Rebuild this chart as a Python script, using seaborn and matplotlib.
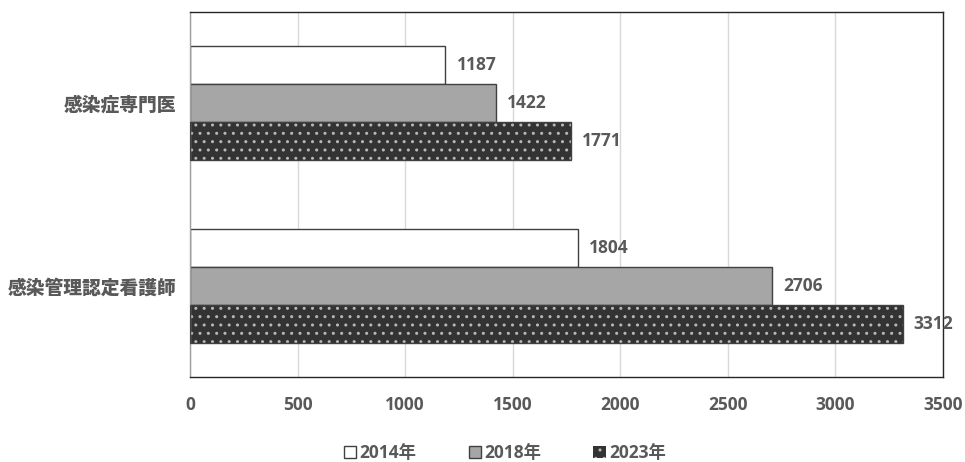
import matplotlib
matplotlib.use("Agg")
import matplotlib.pyplot as plt
import seaborn as sns
import pandas as pd
from matplotlib.patches import Patch

categories = ["感染症専門医", "感染管理認定看護師"]
years = ["2014年", "2018年", "2023年"]
values_2014 = [1187, 1804]
values_2018 = [1422, 2706]
values_2023 = [1771, 3312]
xticks = [0, 500, 1000, 1500, 2000, 2500, 3000, 3500]

sns.set_theme(style="white")
FAM = ['Open Sans', 'Noto Sans CJK JP', 'DejaVu Sans']
plt.rcParams['font.family'] = FAM
plt.rcParams['font.weight'] = 'bold'

rows = []
for yr, vals in zip(years, [values_2014, values_2018, values_2023]):
    for c, v in zip(categories, vals):
        rows.append({"cat": c, "year": yr, "value": v})
df = pd.DataFrame(rows)

fill = ["#ffffff", "#a6a6a6", "#333333"]
txt = "#595959"

fig = plt.figure(figsize=(9.65, 4.62), dpi=100)
ax = fig.add_axes([190/965, 1-377/462, (943-190)/965, (377-12)/462])

sns.barplot(data=df, y="cat", x="value", hue="year", orient="h",
            palette=fill, width=0.625, ax=ax, legend=False,
            edgecolor="#404040", linewidth=1.0, saturation=1, zorder=2)

conts = ax.containers
for bar in conts[2]:
    bar.set_hatch("..")
    bar.set_edgecolor("#b8b8b8")
    bar.set_linewidth(0)
for bar in conts[2]:
    ax.add_patch(plt.Rectangle(bar.get_xy(), bar.get_width(), bar.get_height(),
                               fill=False, edgecolor="#404040", lw=1.0, zorder=3))

for cont in conts:
    ax.bar_label(cont, fmt="%d", padding=8, fontsize=12.5, fontweight="bold",
                 color=txt, family=FAM)

ax.set_xlim(0, 3500)
ax.set_ylim(1.5, -0.5)
ax.set_xticks(xticks)
ax.set_xticklabels([str(t) for t in xticks])
ax.xaxis.grid(True, color="#d9d9d9", lw=1, zorder=0)
ax.set_axisbelow(True)
ax.set_xlabel("")
ax.set_ylabel("")
ax.tick_params(axis="x", length=0, pad=14, labelcolor=txt)
ax.tick_params(axis="y", length=0, pad=10, labelcolor=txt)
for lab in ax.get_xticklabels():
    lab.set_fontweight("bold")
    lab.set_fontsize(12.5)
    lab.set_family(FAM)
for lab in ax.get_yticklabels():
    lab.set_fontweight("heavy")
    lab.set_fontsize(13.5)
    lab.set_family(['Noto Sans CJK JP', 'DejaVu Sans'])
for s in ["top", "right", "bottom"]:
    ax.spines[s].set_visible(True)
    ax.spines[s].set_color("#262626")
    ax.spines[s].set_linewidth(1.0)
ax.spines["left"].set_color("#a0a0a0")
ax.spines["left"].set_linewidth(1.0)

handles = [Patch(facecolor=fill[0], edgecolor="#404040", lw=1.0),
           Patch(facecolor=fill[1], edgecolor="#404040", lw=1.0),
           Patch(facecolor=fill[2], edgecolor="#b8b8b8", hatch="..", lw=0)]
leg = fig.legend(handles, years, loc="center", bbox_to_anchor=(505/965, 1-453/462),
                 ncol=3, frameon=False, handlelength=0.7, handleheight=0.7,
                 handletextpad=0.2, columnspacing=3.0,
                 prop={"weight": "bold", "size": 12.5, "family": FAM})
for t in leg.get_texts():
    t.set_color(txt)

fig.savefig("out.png", dpi=100)
